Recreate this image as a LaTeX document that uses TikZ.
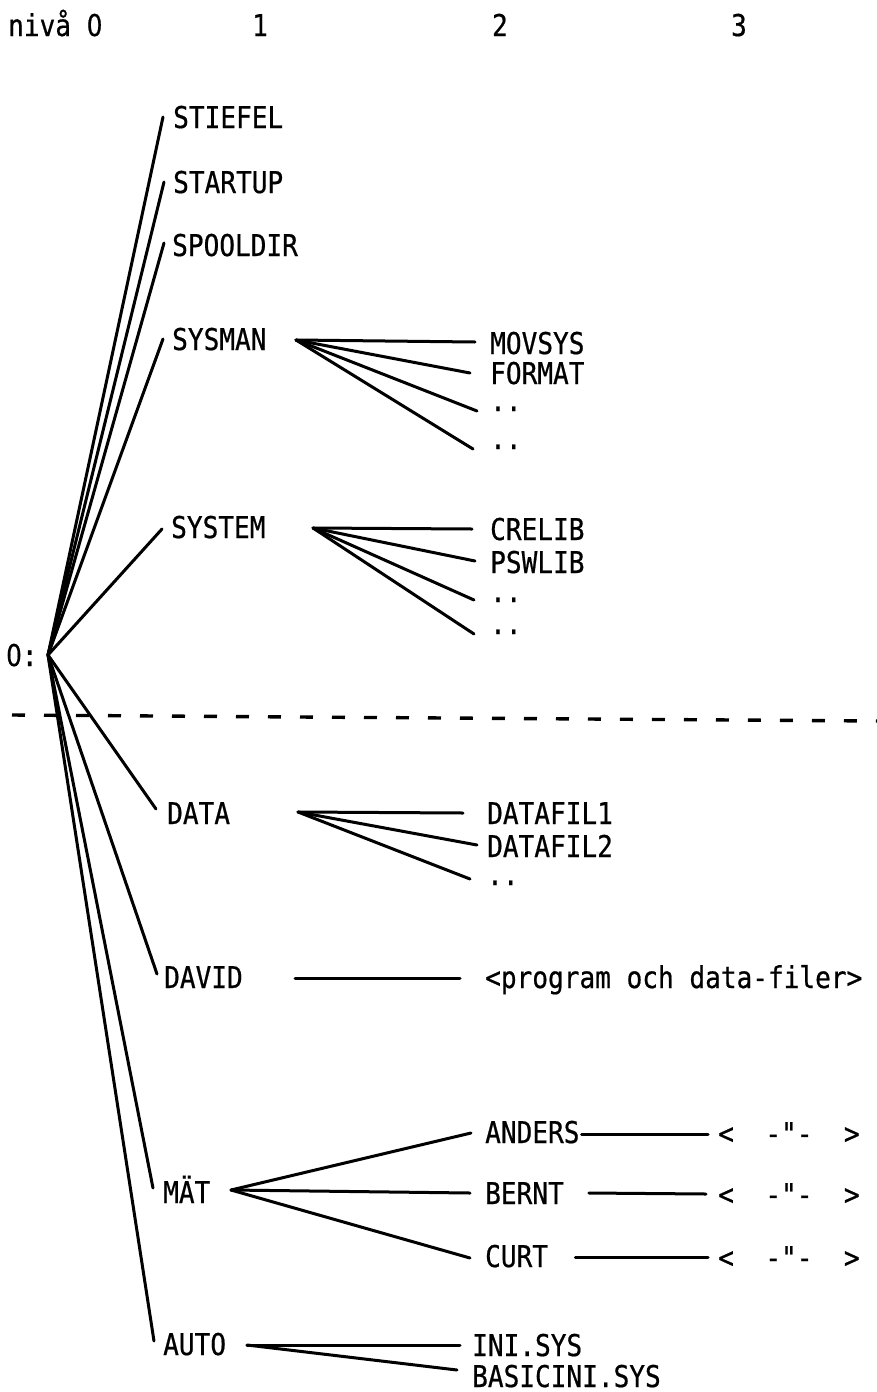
\documentclass[tikz,border=0pt]{standalone}
\usepackage{fontspec}
\newfontfamily\prt[FakeStretch=0.87,FakeBold=0.6]{DejaVu Sans Mono}
% plain zero without the inner dot
\newfontfamily\plz[FakeStretch=0.82,FakeBold=0.6]{DejaVu Sans}
\newcommand\zro{{\plz 0}}
\usetikzlibrary{calc}
\tikzset{
  lbl/.style={font=\prt\fontsize{30}{30}\selectfont, inner sep=0pt,
              text height=22pt, text depth=0pt, anchor=west},
  dots/.style={lbl, text height=5pt, anchor=base west},
  hdr/.style={lbl, anchor=center},
  edge/.style={line width=3pt, line cap=round},
  sep/.style={line width=3.4pt, dash pattern=on 13pt off 19pt}
}
\begin{document}
\begin{tikzpicture}[x=1pt,y=-1pt]
\useasboundingbox (0,0) rectangle (877,1392);

% level header
\node[lbl] (h0) at (8,25) {nivå \zro};
\node[hdr] (h1) at (260,25) {1};
\node[hdr] (h2) at (500,25) {2};
\node[hdr] (h3) at (739,25) {3};

% root
\node[lbl] (rootlbl) at (6,655) {\zro:};
\coordinate (root) at (48,655);

% level 1
\node[lbl] (stiefel)  at (173,117)  {STIEFEL};
\node[lbl] (startup)  at (173,182)  {STARTUP};
\node[lbl] (spooldir) at (172,245)  {SPOOLDIR};
\node[lbl] (sysman)   at (172,339)  {SYSMAN};
\node[lbl] (system)   at (171,527)  {SYSTEM};
\node[lbl] (data)     at (167,813)  {DATA};
\node[lbl] (david)    at (164,977)  {DAVID};
\node[lbl] (mat)      at (163,1192) {MÄT};
\node[lbl] (auto)     at (163,1344) {AUTO};

\draw[edge] (root) -- ([xshift=-10pt]stiefel.west);
\draw[edge] (root) -- ([xshift=-9pt]startup.west);
\draw[edge] (root) -- ([shift={(-8,-2)}]spooldir.west);
\draw[edge] (root) -- ([xshift=-9pt]sysman.west);
\draw[edge] (root) -- ([shift={(-9,2)}]system.west);
\draw[edge] (root) -- ([shift={(-11,-4)}]data.west);
\draw[edge] (root) -- ([shift={(-7,-3)}]david.west);
\draw[edge] (root) -- ([shift={(-10,-4)}]mat.west);
\draw[edge] (root) -- ([shift={(-9,-3)}]auto.west);

% separator
\draw[sep] (12,715) -- (877,721);

% SYSMAN
\coordinate (sysman-o) at (296,340);
\node[lbl]  (movsys) at (490,343) {MOVSYS};
\node[lbl]  (format) at (490,373) {FORMAT};
\node[dots] (sd1)    at (490,411) {..};
\node[dots] (sd2)    at (490,449) {..};
\draw[edge] (sysman-o) -- ([shift={(-15,-1)}]movsys.west);
\draw[edge] (sysman-o) -- ([xshift=-20pt]format.west);
\draw[edge] (sysman-o) -- ([xshift=-13pt]sd1.base west);
\draw[edge] (sysman-o) -- ([xshift=-17pt]sd2.base west);

% SYSTEM
\coordinate (system-o) at (313,528);
\node[lbl]  (crelib) at (490,529) {CRELIB};
\node[lbl]  (pswlib) at (490,562) {PSWLIB};
\node[dots] (td1)    at (490,602) {..};
\node[dots] (td2)    at (490,634) {..};
\draw[edge] (system-o) -- ([xshift=-18pt]crelib.west);
\draw[edge] (system-o) -- ([shift={(-15,-1)}]pswlib.west);
\draw[edge] (system-o) -- ([shift={(-16,-2)}]td1.base west);
\draw[edge] (system-o) -- ([shift={(-16,0)}]td2.base west);

% DATA
\coordinate (data-o) at (298,812);
\node[lbl]  (datafil1) at (487,813) {DATAFIL1};
\node[lbl]  (datafil2) at (487,846) {DATAFIL2};
\node[dots] (dd1)      at (487,885) {..};
\draw[edge] (data-o) -- ([xshift=-24pt]datafil1.west);
\draw[edge] (data-o) -- ([shift={(-10,-1)}]datafil2.west);
\draw[edge] (data-o) -- ([shift={(-17,-6)}]dd1.base west);

% DAVID
\coordinate (david-o) at (295,978);
\node[lbl] (prog) at (485,977) {<program och data-filer>};
\draw[edge] (david-o) -- ([shift={(-25,1)}]prog.west);

% MÄT
\coordinate (mat-o) at (231,1190);
\node[lbl] (anders) at (485,1132) {ANDERS};
\node[lbl] (bernt)  at (485,1193) {BERNT};
\node[lbl] (curt)   at (485,1256) {CURT};
\draw[edge] (mat-o) -- ([shift={(-14,1)}]anders.west);
\draw[edge] (mat-o) -- ([xshift=-15pt]bernt.west);
\draw[edge] (mat-o) -- ([shift={(-15,2)}]curt.west);
\node[lbl] (rep1) at (718,1133) {<~~-"-~~>};
\node[lbl] (rep2) at (718,1194) {<~~-"-~~>};
\node[lbl] (rep3) at (718,1257) {<~~-"-~~>};
\draw[edge] ([shift={(2,2)}]anders.east) -- ([shift={(-10,1)}]rep1.west);
\draw[edge] ([xshift=25pt]bernt.east) -- ([xshift=-12pt]rep2.west);
\draw[edge] ([shift={(27,1)}]curt.east) -- ([xshift=-10pt]rep3.west);

% AUTO
\coordinate (auto-o) at (247,1345);
\node[lbl] (inisys)   at (472,1345) {INI.SYS};
\node[lbl] (basicini) at (472,1376) {BASICINI.SYS};
\draw[edge] (auto-o) -- ([xshift=-12pt]inisys.west);
\draw[edge] (auto-o) -- ([shift={(-15,-6)}]basicini.west);
\end{tikzpicture}
\end{document}
